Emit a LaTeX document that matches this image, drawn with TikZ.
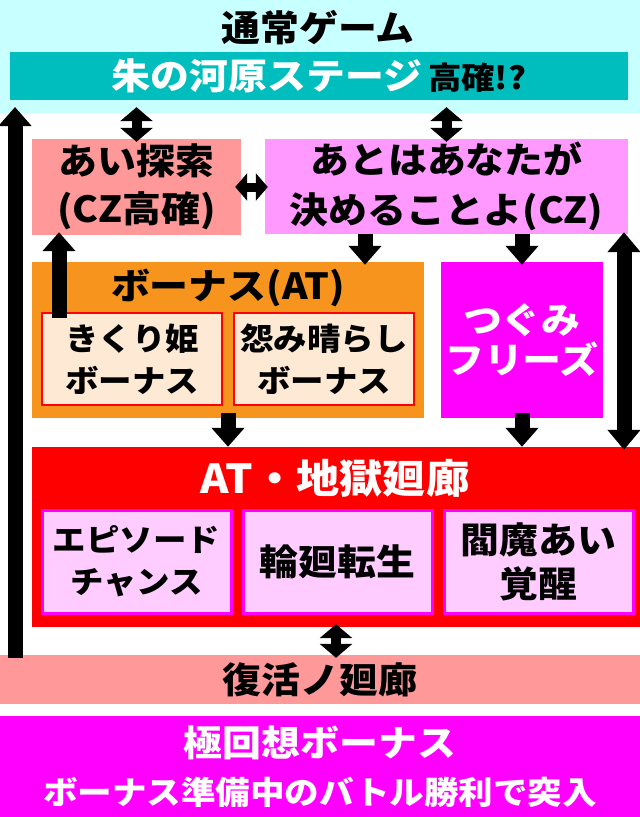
\documentclass[tikz,border=0pt]{standalone}
\usepackage{fontspec}
\setmainfont{Noto Sans CJK JP}[UprightFont=* Black, FakeStretch=1.08]
\usepackage{xcolor}
\usepackage{tikz}
\usetikzlibrary{arrows.meta,positioning}

\definecolor{paleCyan}{RGB}{200,255,255}
\definecolor{stageTeal}{RGB}{0,190,190}
\definecolor{salmon}{RGB}{255,153,153}
\definecolor{lilac}{RGB}{255,153,255}
\definecolor{bonusOrange}{RGB}{247,148,30}
\definecolor{peach}{RGB}{253,233,212}
\definecolor{palePink}{RGB}{255,204,255}
\definecolor{hotMagenta}{RGB}{255,0,255}

\tikzset{
    box/.style={rectangle, inner sep=0pt, align=center},
    big/.style={font=\fontsize{36}{48}\selectfont},
    mid/.style={font=\fontsize{31}{42}\selectfont},
    fatarrow/.style={line width=15pt, -{Triangle[width=32pt,length=19pt]}},
    twoway/.style={line width=10pt, {Triangle[width=32pt,length=14pt]}-{Triangle[width=32pt,length=14pt]}},
    sidearrow/.style={line width=9pt, {Triangle[width=27pt,length=12pt]}-{Triangle[width=27pt,length=12pt]}},
    bigtwoway/.style={line width=15pt, {Triangle[width=32pt,length=20pt]}-{Triangle[width=32pt,length=20pt]}},
}

\begin{document}
\begin{tikzpicture}[x=1pt,y=-1pt]
    \useasboundingbox (0,0) rectangle (640,817);

    % Normal game
    \node[box, fill=paleCyan, minimum width=640pt, minimum height=113pt] (normal) at (320,56.5) {};
    \node[big] (normaltitle) at (318,28) {通常ゲーム};
    \node[box, fill=stageTeal, minimum width=618pt, minimum height=48pt, text=white, big] (stage) at (319,76)
        {朱の河原ステージ\,{\color{black}\fontsize{31}{31}\selectfont 高確!?}};

    % CZ
    \node[box, fill=salmon, minimum width=209pt, minimum height=96pt, big] (search) at (136.5,187) {あい探索\\(CZ高確)};
    \node[box, fill=lilac, minimum width=363pt, minimum height=95pt, font=\fontsize{36}{50}\selectfont] (cz) at (446.5,186.5)
        {あとはあなたが\\決めることよ(CZ)};

    % Bonus (AT)
    \node[box, fill=bonusOrange, minimum width=392pt, minimum height=156pt] (bonus) at (228,340) {};
    \node[big] (bonustitle) at (228,288) {ボーナス(AT)};
    \foreach \name/\x/\txt in {kikuri/132/きくり姫, urami/324/怨み晴らし} {
        \node[box, fill=peach, draw=red, line width=2pt, minimum width=180pt, minimum height=92pt, mid] (\name) at (\x,359) {\txt\\ボーナス};
    }
    \node[box, fill=hotMagenta, minimum width=162pt, minimum height=156pt, text=white, font=\fontsize{36}{40}\selectfont] (freeze) at (522,340)
        {つぐみ\\フリーズ};

    % AT hell corridor
    \node[box, fill=red, minimum width=608pt, minimum height=180pt] (hell) at (336,537) {};
    \node[text=white, font=\fontsize{40}{40}\selectfont] (helltitle) at (335,478) {AT・地獄廻廊};
    \node[box, fill=palePink, draw=hotMagenta, line width=3pt, minimum width=189pt, minimum height=103pt, mid] (episode) at (136.5,561.5) {エピソード\\チャンス};
    \node[box, fill=palePink, draw=hotMagenta, line width=3pt, minimum width=189pt, minimum height=103pt, big] (rinne) at (337.5,561.5) {輪廻転生};
    \node[box, fill=palePink, draw=hotMagenta, line width=3pt, minimum width=189pt, minimum height=103pt, font=\fontsize{36}{44}\selectfont] (enma) at (538.5,561.5) {閻魔あい\\覚醒};

    % Revival
    \node[box, fill=salmon, minimum width=640pt, minimum height=49pt, big] (revival) at (320,679.5) {復活ノ廻廊};

    % Extreme recollection bonus
    \node[box, fill=hotMagenta, minimum width=640pt, minimum height=101pt] (kyoku) at (320,766.5) {};
    \node[big, text=white] (kyokutitle) at (320,743) {極回想ボーナス};
    \node[text=white, font=\fontsize{32}{32}\selectfont] (kyokunote) at (320,792) {ボーナス準備中のバトル勝利で突入};

    % Arrows
    \coordinate (backtop) at (15,107);
    \coordinate (czdown) at (365,0);
    \coordinate (upx) at (59,0);
    \coordinate (rightx) at (624,0);
    \draw[fatarrow, shorten <=-3pt] (revival.north -| backtop) -- (backtop);
    \draw[twoway, shorten <=7pt, shorten >=-3pt] (search.north |- stage.south) -- (search.north);
    \draw[twoway, shorten <=7pt, shorten >=-3pt] (cz.north |- stage.south) -- (cz.north);
    \draw[sidearrow, shorten <=-6pt, shorten >=-3pt] (search.east) -- (search.east -| cz.west);
    \draw[fatarrow, shorten >=-3pt] (cz.south -| czdown) -- (bonus.north -| czdown);
    \draw[fatarrow, shorten >=-3pt] (cz.south -| freeze.north) -- (freeze.north);
    \draw[fatarrow, shorten <=-6pt, shorten >=-3pt] (kikuri.north -| upx) -- (search.south -| upx);
    \draw[fatarrow, shorten <=-5pt] (bonus.south) -- (bonus.south |- hell.north);
    \draw[fatarrow, shorten <=-5pt] (freeze.south) -- (freeze.south |- hell.north);
    \draw[bigtwoway, shorten <=-2pt, shorten >=-3pt] (cz.south -| rightx) -- (hell.north -| rightx);
    \draw[twoway, shorten <=-3pt, shorten >=-3pt] (hell.south) -- (hell.south |- revival.north);
\end{tikzpicture}
\end{document}
